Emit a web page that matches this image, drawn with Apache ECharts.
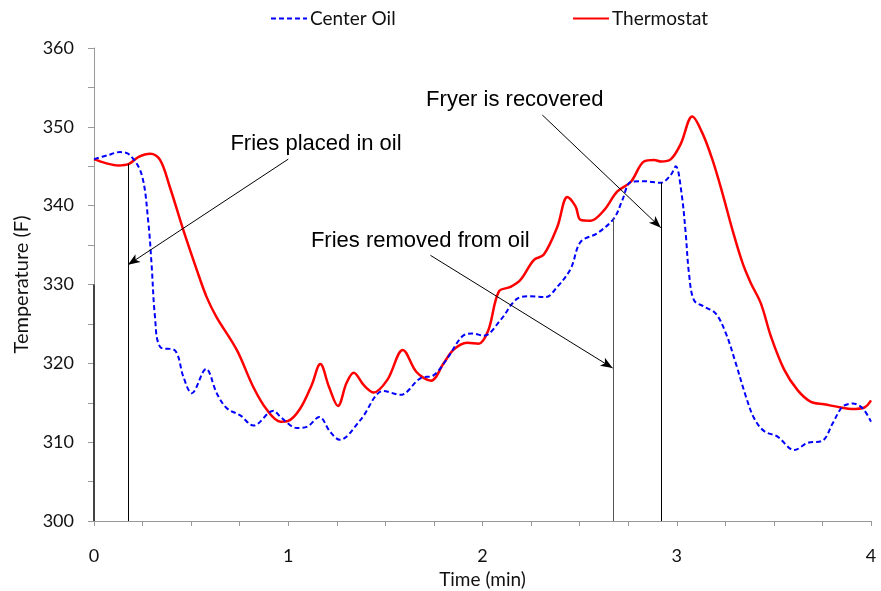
<!DOCTYPE html>
<html>
<head>
<meta charset="utf-8">
<script src="https://cdn.jsdelivr.net/npm/echarts@6/dist/echarts.min.js"></script>
<style>
  html, body { margin: 0; padding: 0; background: #fff; }
  #chart { width: 881px; height: 591px; }
</style>
</head>
<body>
<div id="chart"></div>
<script>
  // time in minutes, temperature in F
  var thermoTime = [0, 0.06, 0.125, 0.18, 0.23, 0.29, 0.34, 0.39, 0.46, 0.53, 0.58, 0.63, 0.735, 0.82, 0.89, 0.96, 1.0, 1.06, 1.12, 1.165,
    1.21, 1.256, 1.3, 1.337, 1.39, 1.44, 1.51, 1.59, 1.66, 1.735, 1.8, 1.85, 1.92, 1.98, 2.03, 2.084, 2.144, 2.196, 2.264, 2.316,
    2.385, 2.437, 2.479, 2.505, 2.557, 2.625, 2.694, 2.763, 2.831, 2.883, 2.92, 2.97, 3.02, 3.08, 3.132, 3.184, 3.235, 3.287, 3.339, 3.381,
    3.433, 3.485, 3.553, 3.622, 3.691, 3.759, 3.845, 3.9, 3.966, 4.0];
  var thermostat = [345.9, 345.4, 345.1, 345.3, 346.2, 346.6, 345.8, 342.4, 336.9, 331.8, 328.4, 325.9, 321.7, 317.0, 314.1, 312.6, 312.7, 314.2, 317.2, 319.9,
    317.0, 314.6, 317.5, 318.8, 317.2, 316.3, 317.9, 321.7, 318.9, 317.8, 320.0, 321.7, 322.6, 322.5, 324.2, 329.1, 329.7, 330.6, 333.1, 333.8,
    337.3, 341.1, 339.9, 338.2, 338.1, 339.4, 341.8, 343.0, 345.6, 345.8, 345.6, 345.9, 347.8, 351.3, 349.2, 345.8, 341.6, 336.9, 332.7, 330.2,
    327.6, 323.4, 319.2, 316.6, 315.1, 314.8, 314.4, 314.2, 314.4, 315.3];

  var oilTime = [0, 0.07, 0.134, 0.186, 0.246, 0.28, 0.297, 0.314, 0.34, 0.418, 0.46, 0.503, 0.577, 0.632, 0.684, 0.753, 0.821, 0.924, 0.96, 1.045,
    1.1, 1.16, 1.216, 1.265, 1.371, 1.491, 1.577, 1.68, 1.749, 1.818, 1.895, 1.947, 2.007, 2.093, 2.179, 2.247, 2.325, 2.385, 2.454, 2.505,
    2.591, 2.677, 2.72, 2.763, 2.831, 2.918, 2.969, 2.995, 3.025, 3.046, 3.063, 3.089, 3.141, 3.201, 3.253, 3.304, 3.356, 3.399, 3.45, 3.519,
    3.605, 3.674, 3.751, 3.803, 3.854, 3.906, 3.957, 4.0];
  var centerOil = [345.9, 346.4, 346.8, 346.4, 343.9, 337.8, 332.3, 325.9, 322.1, 321.6, 318.3, 316.2, 319.3, 316.2, 314.3, 313.4, 312.1, 314.0, 313.2, 311.8,
    312.0, 313.2, 311.3, 310.3, 312.8, 316.5, 316.0, 318.1, 318.5, 320.6, 323.4, 323.8, 323.5, 325.5, 328.2, 328.5, 328.4, 329.7, 332.0, 335.4,
    336.5, 338.4, 340.7, 343.0, 343.1, 342.9, 343.9, 345.0, 341.5, 336.5, 331.4, 328.0, 327.2, 326.3, 323.8, 320.0, 315.8, 313.0, 311.4, 310.7,
    309.0, 309.9, 310.2, 312.4, 314.5, 314.9, 314.3, 312.6];

  // event markers: vertical lines [time, top]
  var eventLines = [[0.175, 345.3], [2.675, 338.4], [2.92, 342.9]];
  // annotation arrows [from, to]
  var arrows = [
    [[1.0, 345.9], [0.175, 332.5]],
    [[1.732, 333.7], [2.67, 319.4]],
    [[2.308, 351.5], [2.918, 337.2]]
  ];
  var notes = [
    ['Fries placed in oil', 1.143, 347.8],
    ['Fries removed from oil', 1.68, 335.5],
    ['Fryer is recovered', 2.166, 353.4]
  ];

  function zip(xs, ys) {
    return xs.map(function (x, i) { return [x, ys[i]]; });
  }

  var axisFont = 'Lato, "Open Sans", sans-serif';
  var noteFont = '"Liberation Sans", Arial, sans-serif';

  var lineMarks = [];
  eventLines.forEach(function (e, i) {
    lineMarks.push([{ coord: [e[0], 300], lineStyle: { color: i === 1 ? '#555' : '#000' } }, { coord: [e[0], e[1]] }]);
  });
  lineMarks.push([{ coord: [0, 300], lineStyle: { color: '#444', width: 2 } }, { coord: [0, 330] }]);
  arrows.forEach(function (a) {
    lineMarks.push([{ coord: a[0], symbol: 'none' }, { coord: a[1], symbol: 'arrow', symbolSize: [7, 12] }]);
  });

  var legendBase = {
    top: 9, padding: 0,
    itemWidth: 36, itemHeight: 10, itemGap: 4,
    itemStyle: { opacity: 0 },
    textStyle: { fontFamily: axisFont, fontSize: 19, color: '#111', padding: [0, 0, 0, -2] }
  };

  var myChart = echarts.init(document.getElementById('chart'));
  var option = {
    animation: false,
    grid: { left: 94, right: 10, top: 48, bottom: 70, outerBoundsMode: 'none', containLabel: false },
    legend: [
      Object.assign({}, legendBase, { data: ['Center Oil'], left: 270 }),
      Object.assign({}, legendBase, { data: ['Thermostat'], left: 572 })
    ],
    xAxis: {
      type: 'value',
      min: 0, max: 4, interval: 0.25,
      name: 'Time (min)',
      nameLocation: 'middle',
      nameGap: 47,
      nameTextStyle: { fontFamily: axisFont, fontSize: 19, color: '#111' },
      axisLine: { lineStyle: { color: '#999' } },
      axisTick: { show: true, length: 5, lineStyle: { color: '#999' } },
      axisLabel: {
        margin: 26,
        fontFamily: axisFont, fontSize: 18, color: '#111',
        formatter: function (v) { return v % 1 === 0 ? String(v) : ''; }
      },
      splitLine: { show: false }
    },
    yAxis: {
      type: 'value',
      min: 300, max: 360, interval: 5,
      name: 'Temperature (F)',
      nameLocation: 'middle',
      nameGap: 62,
      nameTextStyle: { fontFamily: axisFont, fontSize: 20, color: '#111' },
      axisLine: { show: true, lineStyle: { color: '#999' } },
      axisTick: { show: true, length: 6, lineStyle: { color: '#999' } },
      axisLabel: {
        margin: 20,
        fontFamily: axisFont, fontSize: 18, color: '#111',
        formatter: function (v) { return v % 10 === 0 ? String(v) : ''; }
      },
      splitLine: { show: false }
    },
    series: [{
      name: 'Center Oil',
      type: 'line',
      data: zip(oilTime, centerOil),
      smooth: 0.35,
      symbol: 'none',
      lineStyle: { color: '#0000ff', width: 2, type: [5, 3] },
      itemStyle: { color: '#0000ff' },
      z: 3
    }, {
      name: 'Thermostat',
      type: 'line',
      data: zip(thermoTime, thermostat),
      smooth: 0.35,
      symbol: 'none',
      lineStyle: { color: '#ff0000', width: 2.5 },
      itemStyle: { color: '#ff0000' },
      z: 2,
      markLine: {
        silent: true,
        symbol: 'none',
        label: { show: false },
        lineStyle: { color: '#000', width: 1, type: 'solid' },
        emphasis: { disabled: true },
        data: lineMarks
      },
      markPoint: {
        silent: true,
        symbol: 'circle',
        symbolSize: 0,
        label: {
          show: true,
          position: 'inside',
          fontFamily: noteFont, fontSize: 22, color: '#000',
          formatter: function (p) { return p.name; }
        },
        data: notes.map(function (n) { return { name: n[0], coord: [n[1], n[2]] }; })
      }
    }]
  };
  myChart.setOption(option);
</script>
</body>
</html>
